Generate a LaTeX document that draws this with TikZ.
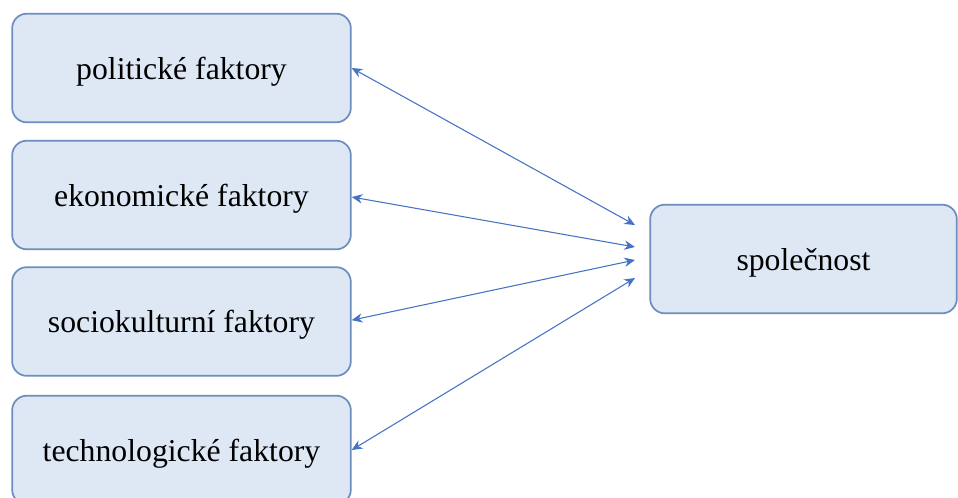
\documentclass[tikz,border=0pt]{standalone}
\usepackage{fontspec}
\setmainfont{Liberation Serif}
\usetikzlibrary{arrows.meta}
\definecolor{boxfill}{HTML}{DEE8F5}
\definecolor{boxline}{HTML}{6C8EBF}
\definecolor{arrowc}{HTML}{4472C4}
\tikzset{
  factor/.style={draw=boxline, fill=boxfill, line width=1.3pt, rounded corners=11pt,
    minimum width=254pt, minimum height=81.5pt, inner sep=0pt, text height=16.5pt, text depth=0pt,
    font=\fontsize{23.8}{28}\selectfont},
  link/.style={draw=arrowc, line width=0.8pt, {Stealth[length=8pt,width=7pt]}-{Stealth[length=8pt,width=7pt]}}
}
\begin{document}
\begin{tikzpicture}[x=0.75pt,y=-0.75pt]
\useasboundingbox (0,0) rectangle (958,497);
\node[factor] (p) at (181.5,68) {politické faktory};
\node[factor] (e) at (181.5,195) {ekonomické faktory};
\node[factor] (s) at (181.5,321.5) {sociokulturní faktory};
\node[factor] (t) at (181.5,450) {technologické faktory};
\node[factor, minimum width=230pt] (soc) at (803.5,259) {společnost};
\coordinate (r1) at (635,225);
\coordinate (r2) at (635,247);
\coordinate (r3) at (635,260);
\coordinate (r4) at (635,278);
\draw[link] ([yshift=0pt]p.east) -- (r1);
\draw[link] ([yshift=-1.5pt]e.east) -- (r2);
\draw[link] ([yshift=1pt]s.east) -- (r3);
\draw[link] (t.east) -- (r4);
\end{tikzpicture}
\end{document}
